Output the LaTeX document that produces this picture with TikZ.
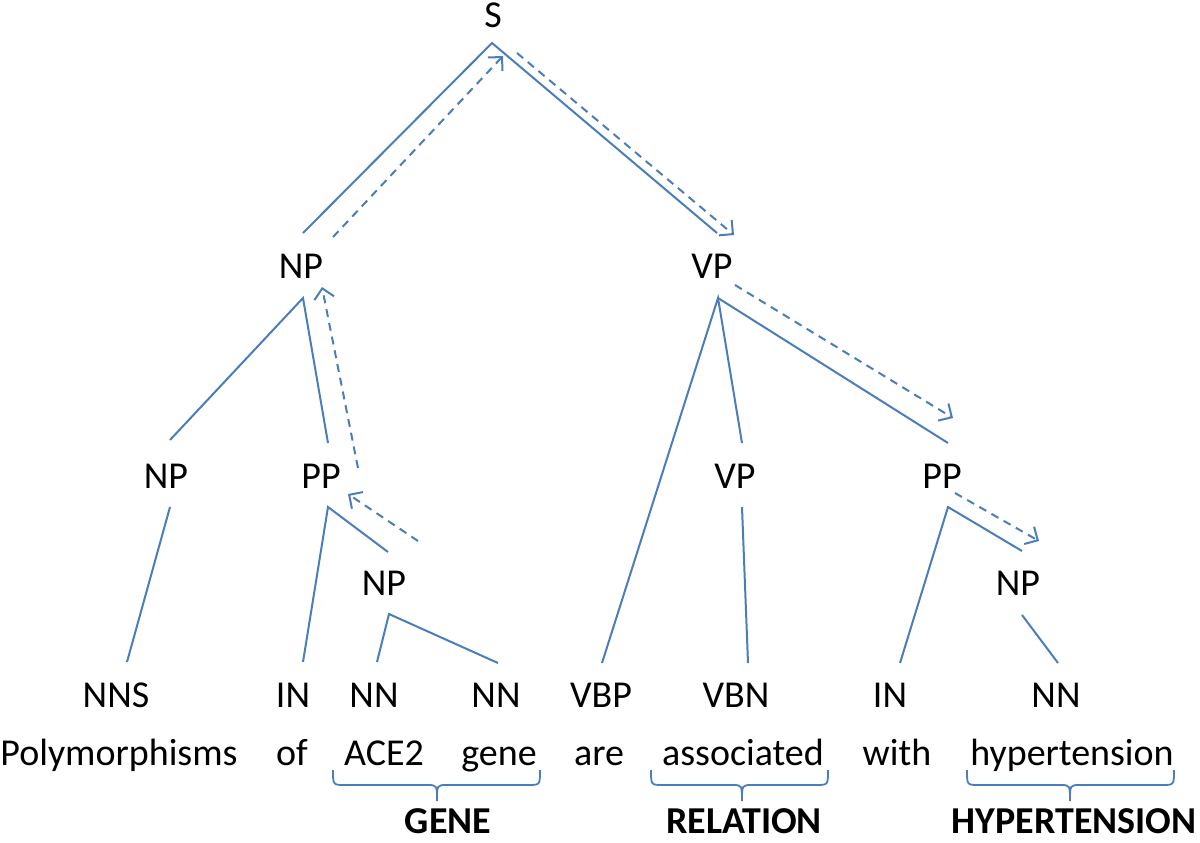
\documentclass[tikz,border=0pt]{standalone}
\usepackage{fontspec}
\setmainfont{Carlito}
\usetikzlibrary{arrows.meta}
\definecolor{lineblue}{HTML}{4A7EBB}
\begin{document}
\begin{tikzpicture}[x=0.5pt,y=-0.5pt,
  lbl/.style={anchor=base,inner sep=0pt,font=\fontsize{19}{23}\selectfont},
  tag/.style={anchor=base,inner sep=0pt,font=\fontsize{19}{23}\selectfont\bfseries},
  edge/.style={draw=lineblue,line width=1pt},
  flow/.style={draw=lineblue,line width=1pt,dash pattern=on 4pt off 3pt,-{Straight Barb[length=5pt,width=10pt]}},
  brc/.style={draw=lineblue,line width=0.9pt}]
\useasboundingbox (0,0) rectangle (1200,842);

% tree labels
\node[lbl] (S)    at (493,27)  {S};
\node[lbl] (NP1)  at (301,278) {NP};
\node[lbl] (VP1)  at (712,278) {VP};
\node[lbl] (NP2)  at (166,488) {NP};
\node[lbl] (PP2)  at (321,488) {PP};
\node[lbl] (VP2)  at (735,488) {VP};
\node[lbl] (PP2b) at (942,488) {PP};
\node[lbl] (NP3)  at (384,595) {NP};
\node[lbl] (NP3b) at (1018,595) {NP};
% POS tags
\node[lbl] (NNS)  at (116,707) {NNS};
\node[lbl] (IN1)  at (293,707) {IN};
\node[lbl] (NN1)  at (374,707) {NN};
\node[lbl] (NN2)  at (496,707) {NN};
\node[lbl] (VBP)  at (601,707) {VBP};
\node[lbl] (VBN)  at (736,707) {VBN};
\node[lbl] (IN2)  at (890,707) {IN};
\node[lbl] (NN3)  at (1056,707) {NN};
% words
\node[lbl] (w1) at (119,765) {Polymorphisms};
\node[lbl] (w2) at (292,765) {of};
\node[lbl] (w3) at (384,765) {ACE2};
\node[lbl] (w4) at (499,765) {gene};
\node[lbl] (w5) at (599,765) {are};
\node[lbl] (w6) at (743,765) {associated};
\node[lbl] (w7) at (897,765) {with};
\node[lbl] (w8) at (1072,765) {hypertension};
% entity tags
\node[tag] (gene) at (448,833) {GENE};
\node[tag] (rel)  at (744,833) {RELATION};
\node[tag] (hyp)  at (1074,833) {HYPERTENSION};

% connector end points
\coordinate (S-b)    at (492,43);
\coordinate (NP1-t)  at (303,233);
\coordinate (VP1-t)  at (717,233);
\coordinate (NP1-b)  at (303,298);
\coordinate (NP2-t)  at (170,440);
\coordinate (PP2-t)  at (328,443);
\coordinate (NP2-b)  at (170,507);
\coordinate (NNS-t)  at (127,662);
\coordinate (PP2-b)  at (328,507);
\coordinate (IN1-t)  at (303,662);
\coordinate (NP3-t)  at (388,552);
\coordinate (NP3-b)  at (389,614);
\coordinate (NN1-t)  at (377,662);
\coordinate (NN2-t)  at (498,663);
\coordinate (VP1-b)  at (718,298);
\coordinate (VBP-t)  at (602,663);
\coordinate (VP2-t)  at (742,443);
\coordinate (PP2b-t) at (948,443);
\coordinate (VP2-b)  at (742,507);
\coordinate (VBN-t)  at (748,663);
\coordinate (PP2b-b) at (948,507);
\coordinate (IN2-t)  at (900,663);
\coordinate (NP3b-t) at (1022,551);
\coordinate (NP3b-b) at (1022,615);
\coordinate (NN3-t)  at (1058,663);
% dashed path end points
\coordinate (a1s) at (333,237); \coordinate (a1e) at (503,56);
\coordinate (a2s) at (517,53);  \coordinate (a2e) at (734,235);
\coordinate (a3s) at (358,468); \coordinate (a3e) at (322,287);
\coordinate (a4s) at (418,541); \coordinate (a4e) at (348,494);
\coordinate (a5s) at (735,285); \coordinate (a5e) at (953,418);
\coordinate (a6s) at (955,493); \coordinate (a6e) at (1039,541);

% tree edges
\draw[edge] (NP1-t) -- (S-b) -- (VP1-t);
\draw[edge] (NP2-t) -- (NP1-b) -- (PP2-t);
\draw[edge] (NP2-b) -- (NNS-t);
\draw[edge] (IN1-t) -- (PP2-b) -- (NP3-t);
\draw[edge] (NN1-t) -- (NP3-b) -- (NN2-t);
\draw[edge] (VBP-t) -- (VP1-b) -- (VP2-t);
\draw[edge] (VP1-b) -- (PP2b-t);
\draw[edge] (VP2-b) -- (VBN-t);
\draw[edge] (IN2-t) -- (PP2b-b) -- (NP3b-t);
\draw[edge] (NP3b-b) -- (NN3-t);

% dashed path
\draw[flow] (a1s) -- (a1e);
\draw[flow] (a2s) -- (a2e);
\draw[flow] (a3s) -- (a3e);
\draw[flow] (a4s) -- (a4e);
\draw[flow] (a5s) -- (a5e);
\draw[flow] (a6s) -- (a6e);

% braces
\draw[brc] (333,770) .. controls (333,785) .. (345,785) -- (427,785)
  .. controls (437,785) .. (437,801) .. controls (437,785) .. (447,785)
  -- (528,785) .. controls (540,785) .. (540,770);
\draw[brc] (651,770) .. controls (651,785) .. (663,785) -- (732,785)
  .. controls (742,785) .. (742,801) .. controls (742,785) .. (752,785)
  -- (816,785) .. controls (828,785) .. (828,770);
\draw[brc] (967,770) .. controls (967,785) .. (979,785) -- (1060,785)
  .. controls (1070,785) .. (1070,801) .. controls (1070,785) .. (1080,785)
  -- (1162,785) .. controls (1174,785) .. (1174,770);
\end{tikzpicture}
\end{document}
